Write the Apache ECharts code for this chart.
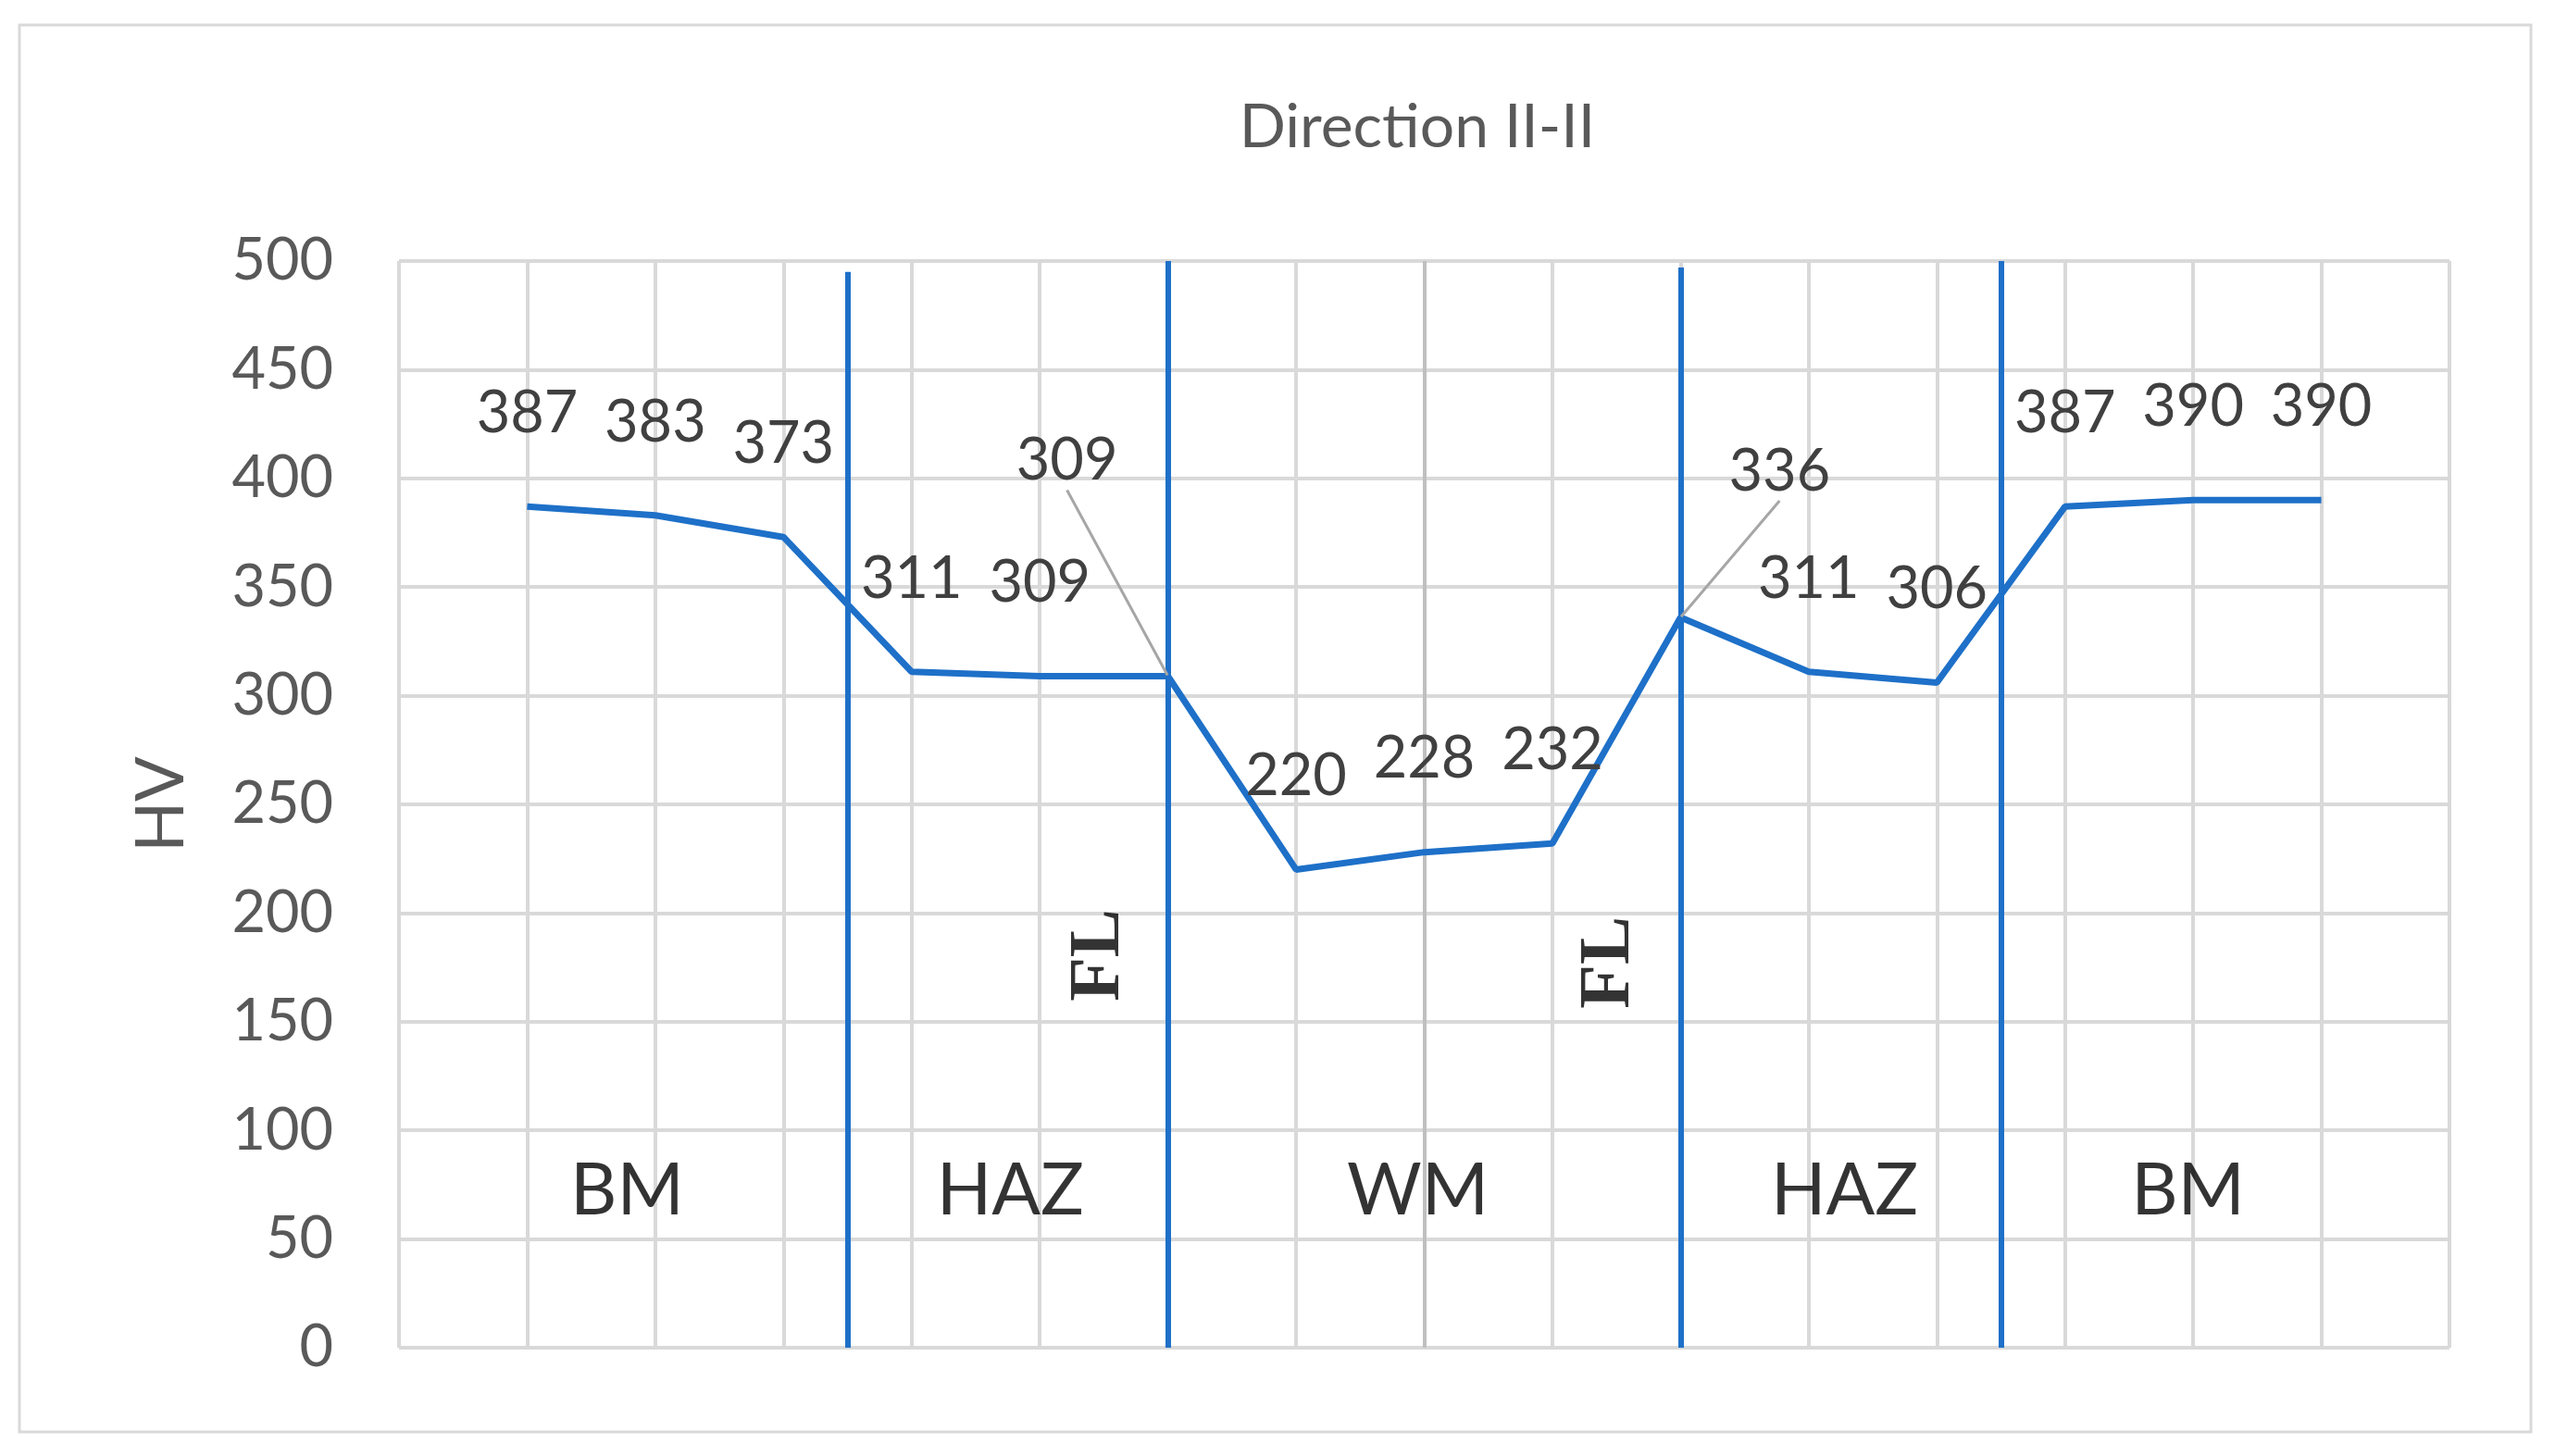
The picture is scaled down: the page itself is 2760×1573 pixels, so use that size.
<!DOCTYPE html>
<html>
<head>
<meta charset="utf-8">
<script src="https://cdn.jsdelivr.net/npm/echarts@6/dist/echarts.min.js"></script>
<style>
html,body{margin:0;padding:0;background:#fff;}
#chart{width:2760px;height:1573px;}
</style>
</head>
<body>
<div id="chart"></div>
<script>
// ---- data ----
const titleText = 'Direction II-II';
const yAxisName = 'HV';
const positions = [1, 2, 3, 4, 5, 6, 7, 8, 9, 10, 11, 12, 13, 14, 15];
const hardness = [387, 383, 373, 311, 309, 309, 220, 228, 232, 336, 311, 306, 387, 390, 390];
const yTicks = [0, 50, 100, 150, 200, 250, 300, 350, 400, 450, 500];
const boundaryX = [3.5, 6, 10, 12.5];
const boundaryTop = [495, 500, 497, 500];
const boundaryBottom = [0, 0, 0, 0];
const zoneNames = ['BM', 'HAZ', 'WM', 'HAZ', 'BM'];
const zoneX = [1.78, 4.77, 7.95, 11.28, 13.96];
const zoneY = [72, 72, 72, 72, 72];
const flNames = ['FL', 'FL'];
const flX = [5.47, 9.45];
const flY = [180.6, 177.2];
const centerX = 8;

// ---- presentation ----
const BLUE = '#1E70C8';
const FONT = 'Lato, "Open Sans", sans-serif';
// labels moved away with a leader line (index -> offset in px)
const LEADER_PAD = 26;
const movedLabels = { 5: { dx: -109, dy: -132 + LEADER_PAD }, 9: { dx: 107, dy: -57 + LEADER_PAD } };

const chart = echarts.init(document.getElementById('chart'));

const lineData = positions.map((x, i) => {
  const item = { value: [x, hardness[i]] };
  if (movedLabels[i]) {
    item.labelLine = { show: true, lineStyle: { color: '#A6A6A6', width: 3 } };
    item.label = { padding: [0, 0, LEADER_PAD, 0] };
  }
  return item;
});
const boundaryLines = boundaryX.map((x, i) => [
  { coord: [x, boundaryTop[i]] },
  { coord: [x, boundaryBottom[i]] }
]);

const option = {
  backgroundColor: '#ffffff',
  animation: false,
  title: {
    text: titleText,
    left: 1526,
    top: 100,
    textAlign: 'center',
    textStyle: { fontFamily: FONT, fontSize: 66, fontWeight: 'normal', color: '#595959' }
  },
  graphic: [{
    type: 'rect',
    shape: { x: 21, y: 27, width: 2713, height: 1520 },
    style: { fill: null, stroke: '#D9D9D9', lineWidth: 3 },
    silent: true,
    z: -10
  }],
  grid: { left: 431, right: 114, top: 282, bottom: 117, containLabel: false },
  xAxis: {
    type: 'value',
    min: 0,
    max: 16,
    interval: 1,
    axisLine: { show: false },
    axisTick: { show: false },
    axisLabel: { show: false },
    splitLine: { show: true, lineStyle: { color: '#D9D9D9', width: 4 } }
  },
  yAxis: {
    type: 'value',
    min: yTicks[0],
    max: yTicks[yTicks.length - 1],
    interval: yTicks[1] - yTicks[0],
    name: yAxisName,
    nameLocation: 'middle',
    nameGap: 220,
    nameTextStyle: { fontFamily: FONT, fontSize: 72, color: '#595959' },
    axisLine: { show: false },
    axisTick: { show: false },
    axisLabel: { margin: 71, fontFamily: FONT, fontSize: 63, color: '#595959' },
    splitLine: { show: true, lineStyle: { color: '#D9D9D9', width: 4 } }
  },
  series: [
    {
      type: 'line',
      data: lineData,
      symbol: 'circle',
      symbolSize: 2,
      itemStyle: { color: 'rgba(0,0,0,0)', borderWidth: 0 },
      lineStyle: { color: BLUE, width: 7 },
      label: {
        show: true,
        position: 'top',
        distance: 68,
        fontFamily: FONT,
        fontSize: 63,
        color: '#404040'
      },
      labelLine: { show: false },
      labelLayout: function (params) {
        const m = movedLabels[params.dataIndex];
        return m ? { dx: m.dx, dy: m.dy } : {};
      },
      markLine: {
        silent: true,
        symbol: ['none', 'none'],
        label: { show: false },
        lineStyle: { color: BLUE, width: 6, type: 'solid' },
        data: [[
          { coord: [centerX, yTicks[yTicks.length - 1]], lineStyle: { color: '#BFBFBF', width: 4 } },
          { coord: [centerX, yTicks[0]] }
        ]].concat(boundaryLines)
      },
      z: 5
    },
    {
      type: 'scatter',
      data: zoneX.map((x, i) => [x, zoneY[i]]),
      symbolSize: 0,
      silent: true,
      label: {
        show: true,
        position: 'inside',
        formatter: (p) => zoneNames[p.dataIndex],
        fontFamily: FONT,
        fontSize: 78,
        color: '#000000'
      },
      z: 6
    },
    {
      type: 'scatter',
      data: flX.map((x, i) => [x, flY[i]]),
      symbolSize: 0,
      silent: true,
      label: {
        show: true,
        position: 'inside',
        rotate: 90,
        formatter: (p) => flNames[p.dataIndex],
        fontFamily: '"Liberation Serif", "DejaVu Serif", serif',
        fontWeight: 'bold',
        fontSize: 78,
        color: '#000000'
      },
      z: 6
    }
  ]
};

chart.setOption(option);
</script>
</body>
</html>
